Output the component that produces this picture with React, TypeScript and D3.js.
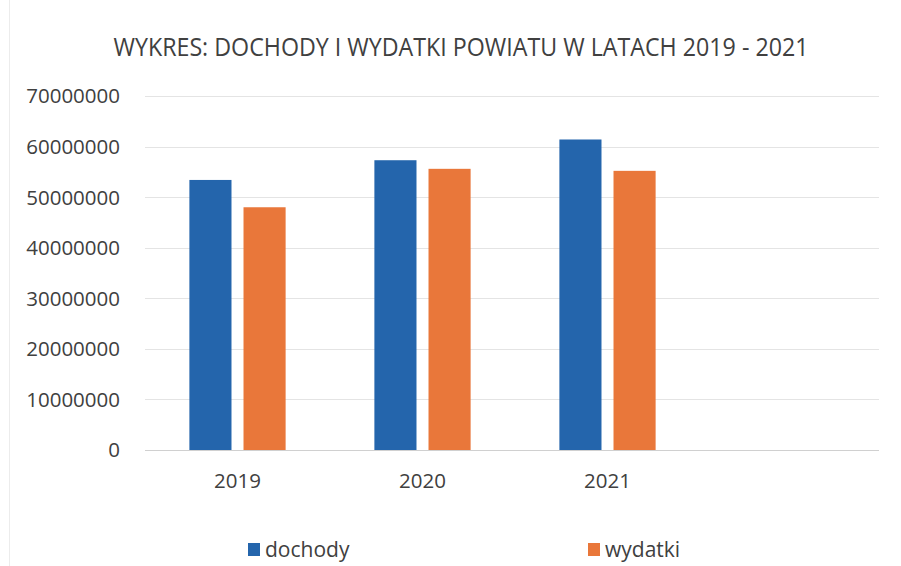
import { useEffect, useRef } from "react";
import * as d3 from "d3";

// wartości
const years = ["2019", "2020", "2021", ""];
const seriesNames = ["dochody", "wydatki"];
const dochody = [53400000, 57300000, 61400000];
const wydatki = [48000000, 55600000, 55200000];
const yTicks = [0, 10000000, 20000000, 30000000, 40000000, 50000000, 60000000, 70000000];
const colors = ["#2465ac", "#e9773a"];

const W = 901;
const H = 566;
const margin = { top: 96, right: 16, bottom: 116, left: 145 };

const App = () => {
  const ref = useRef<SVGSVGElement>(null);

  useEffect(() => {
    const svg = d3.select(ref.current);
    svg.selectAll("*").remove();

    const innerW = W - margin.left - margin.right;
    const innerH = H - margin.top - margin.bottom;
    const font = "'Open Sans', 'DejaVu Sans', sans-serif";

    svg.append("rect").attr("width", W).attr("height", H).attr("fill", "#fff");
    // faint frame edge from the scan
    svg
      .append("line")
      .attr("x1", 9.5)
      .attr("x2", 9.5)
      .attr("y1", 0)
      .attr("y2", H)
      .attr("stroke", "#ececec");

    svg
      .append("text")
      .attr("x", 461)
      .attr("y", 56)
      .attr("text-anchor", "middle")
      .attr("font-family", font)
      .attr("font-size", 25)
      .attr("fill", "#404040")
      .attr("textLength", 695)
      .attr("lengthAdjust", "spacingAndGlyphs")
      .text("WYKRES: DOCHODY I WYDATKI POWIATU W LATACH 2019 - 2021");

    const g = svg
      .append("g")
      .attr("transform", `translate(${margin.left},${margin.top})`);

    const x0 = d3.scaleBand().domain(years.map((d, i) => i + "")).range([0, innerW]);
    const x1 = d3
      .scaleBand()
      .domain(seriesNames)
      .range([0, x0.bandwidth()])
      .paddingInner(0.222)
      .paddingOuter(0.82);
    const y = d3.scaleLinear().domain([0, 70000000]).range([innerH, 0]);

    // siatka
    g.append("g")
      .selectAll("line")
      .data(yTicks)
      .enter()
      .append("line")
      .attr("x1", 0)
      .attr("x2", innerW - 6)
      .attr("y1", (d) => Math.round(y(d)) + 0.5)
      .attr("y2", (d) => Math.round(y(d)) + 0.5)
      .attr("stroke", (d) => (d === 0 ? "#d0d0d0" : "#e4e4e4"))
      .attr("stroke-width", 1);

    g.append("g")
      .selectAll("text")
      .data(yTicks)
      .enter()
      .append("text")
      .attr("x", -25)
      .attr("y", (d) => y(d))
      .attr("dy", "0.36em")
      .attr("text-anchor", "end")
      .attr("font-family", font)
      .attr("font-size", 20.5)
      .attr("fill", "#404040")
      .text((d) => d.toString());

    const data = years.slice(0, 3).map((yr, i) => ({
      key: i + "",
      values: [dochody[i], wydatki[i]],
    }));

    const groups = g
      .append("g")
      .selectAll("g")
      .data(data)
      .enter()
      .append("g")
      .attr("transform", (d) => `translate(${x0(d.key)},0)`);

    groups
      .selectAll("rect")
      .data((d) => d.values.map((v, j) => ({ name: seriesNames[j], v, j })))
      .enter()
      .append("rect")
      .attr("x", (d) => x1(d.name)!)
      .attr("width", x1.bandwidth())
      .attr("y", (d) => y(d.v))
      .attr("height", (d) => innerH - y(d.v))
      .attr("fill", (d) => colors[d.j]);

    g.append("g")
      .selectAll("text")
      .data(years)
      .enter()
      .append("text")
      .attr("x", (d, i) => x0(i + "")! + x0.bandwidth() / 2)
      .attr("y", innerH + 38)
      .attr("text-anchor", "middle")
      .attr("font-family", font)
      .attr("font-size", 20.5)
      .attr("fill", "#404040")
      .text((d) => d);

    // legenda
    const legendX = [248, 588];
    const legend = svg
      .append("g")
      .selectAll("g")
      .data(seriesNames)
      .enter()
      .append("g")
      .attr("transform", (d, i) => `translate(${legendX[i]},549)`);
    legend
      .append("rect")
      .attr("x", 0)
      .attr("y", -6)
      .attr("width", 12)
      .attr("height", 13)
      .attr("fill", (d, i) => colors[i]);
    legend
      .append("text")
      .attr("x", 17)
      .attr("y", 0)
      .attr("dy", "0.36em")
      .attr("font-family", font)
      .attr("font-size", 21)
      .attr("fill", "#404040")
      .text((d) => d);
  }, []);

  return (
    <svg
      ref={ref}
      width={W}
      height={H}
      style={{ position: "absolute", left: 0, top: 0, display: "block" }}
    />
  );
};

export default App;
